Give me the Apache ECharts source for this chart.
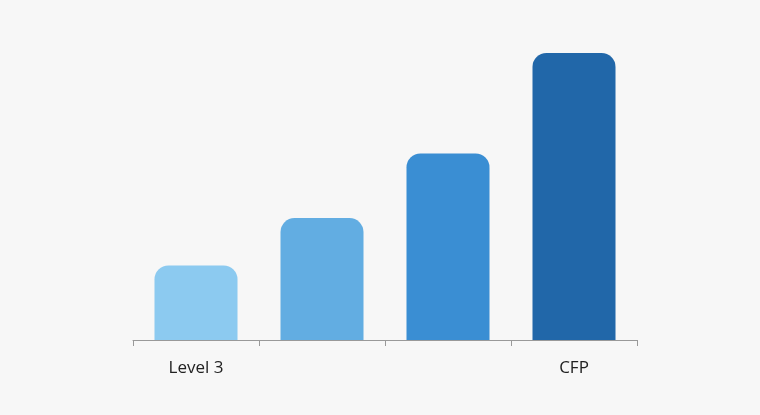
<!DOCTYPE html>
<html>
<head>
<meta charset="utf-8">
<script src="https://cdn.jsdelivr.net/npm/echarts@6/dist/echarts.min.js"></script>
<style>
html,body{margin:0;padding:0;background:#f7f7f7;}
#chart{width:760px;height:415px;}
</style>
</head>
<body>
<div id="chart"></div>
<script>
// category labels (middle two are unlabeled in the reference)
var categories = ['Level 3', '', '', 'CFP'];
var values = [26, 42.5, 65, 100];
var barColors = ['#8ccaf0', '#62ade2', '#3a8ed3', '#2167a9'];

var chart = echarts.init(document.getElementById('chart'));
chart.setOption({
    backgroundColor: '#f7f7f7',
    grid: {left: 133, right: 123, top: 53, bottom: 75},
    xAxis: {
        type: 'category',
        data: categories,
        axisLine: {lineStyle: {color: '#999', width: 1}},
        axisTick: {show: true, length: 6, lineStyle: {color: '#999'}},
        axisLabel: {color: '#222', fontSize: 17, margin: 20, fontFamily: 'Open Sans'}
    },
    yAxis: {
        type: 'value',
        min: 0,
        max: 100,
        show: false,
        splitLine: {show: false}
    },
    series: [{
        type: 'bar',
        barWidth: 83,
        data: values.map(function (v, i) {
            return {value: v, itemStyle: {color: barColors[i]}};
        }),
        itemStyle: {borderRadius: [14, 14, 0, 0]}
    }]
});
</script>
</body>
</html>
